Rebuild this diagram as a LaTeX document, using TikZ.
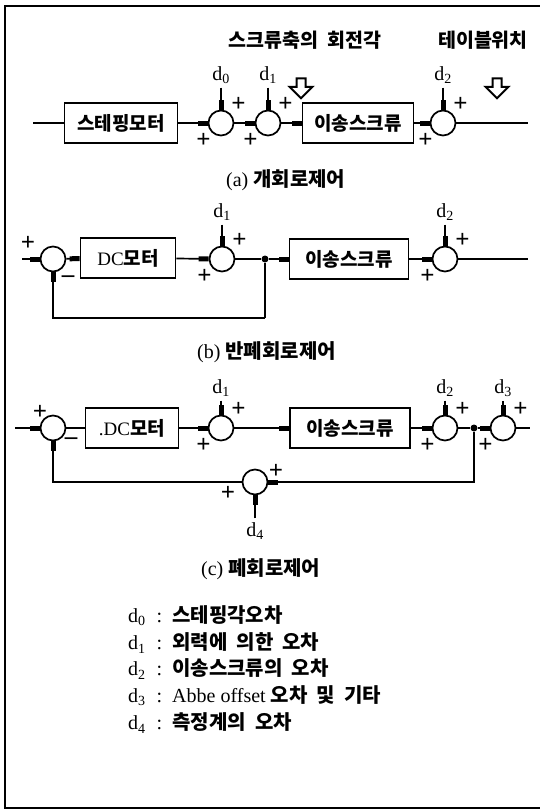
\documentclass[tikz,border=0pt]{standalone}
\usepackage{fontspec}
\setmainfont{Liberation Serif}
\newfontfamily\kr[WordSpace=2]{Noto Sans CJK KR}
\usetikzlibrary{arrows.meta, shapes.arrows, positioning}

\begin{document}
\begin{tikzpicture}[x=1pt, y=1pt, line width=1.7pt,
	font=\fontsize{20}{24}\selectfont,
	blk/.style={draw, minimum height=40pt, inner sep=0pt,
		font=\fontsize{19}{23}\selectfont\kr\bfseries},
	sm/.style={circle, draw, minimum size=25pt, inner sep=0pt},
	jn/.style={circle, fill, minimum size=7pt, inner sep=0pt},
	pl/.style={inner sep=0pt, font=\fontsize{25}{25}\selectfont\bfseries},
	kt/.style={font=\fontsize{19.5}{23}\selectfont\kr\bfseries},
	fl/.style={-{Rectangle[length=10pt, width=5pt]}},
	hol/.style={single arrow, draw, shape border rotate=270, line width=2pt,
		inner sep=3.5pt, minimum height=20pt, single arrow head extend=7pt}]
	\useasboundingbox (0,0) rectangle (540,-809);
	\draw[line width=2pt] (540,-6) -- (5,-6) -- (5,-808) -- (540,-808);

	% (a)
	\node[kt] (ta) at (305,-40) {스크류축의 회전각};
	\node[kt] (tb) at (483,-40) {테이블위치};
	\node[hol] (ha) at (301,-86) {};
	\node[hol] (hb) at (497,-86) {};
	\coordinate (ain) at (33,-123);
	\node[blk, minimum width=113pt] (am) at (121,-123) {스테핑모터};
	\node[sm] (a1) at (221,-123) {};
	\node[sm] (a2) at (268,-123) {};
	\node[blk, minimum width=111pt] (as) at (358,-123) {이송스크류};
	\node[sm] (a3) at (443,-123) {};
	\coordinate (aout) at (528,-123);
	\node (d0a) at (221,-75) {d\textsubscript{0}};
	\node (d1a) at (268,-75) {d\textsubscript{1}};
	\node (d2a) at (443,-75) {d\textsubscript{2}};
	\node[pl, above right=1pt and 0pt of a1] (pa1t) {+};
	\node[pl, below left=0pt and 0pt of a1] (pa1b) {+};
	\node[pl, above right=1pt and 0pt of a2] (pa2t) {+};
	\node[pl, below left=0pt and 0pt of a2] (pa2b) {+};
	\node[pl, above right=1pt and 0pt of a3] (pa3t) {+};
	\node[pl, below left=0pt and 0pt of a3] (pa3b) {+};
	\draw (ain) -- (am);
	\draw[fl] (am) -- (a1);
	\draw[fl] (a1) -- (a2);
	\draw[fl] (a2) -- (as);
	\draw[fl] (as) -- (a3);
	\draw (a3) -- (aout);
	\draw[fl] (d0a) -- (a1);
	\draw[fl] (d1a) -- (a2);
	\draw[fl] (d2a) -- (a3);
	\node[anchor=west] (capa) at (222,-180) {(a)\ {\kr\bfseries 개회로제어}};

	% (b)
	\coordinate (bin) at (22,-259);
	\node[sm] (b1) at (53,-259) {};
	\node[blk, minimum width=95pt] (bm) at (128,-258) {{\rmfamily\mdseries DC}모터};
	\node[sm] (b2) at (222,-259) {};
	\node[jn] (bj) at (265,-259) {};
	\node[blk, minimum width=119pt] (bs) at (349,-259) {이송스크류};
	\node[sm] (b3) at (445,-259) {};
	\coordinate (bout) at (528,-259);
	\coordinate (bfb) at (265,-318);
	\node (d1b) at (222,-212) {d\textsubscript{1}};
	\node (d2b) at (445,-212) {d\textsubscript{2}};
	\node[pl] (pb1t) at (28,-243) {+};
	\node[pl] (pb1m) at (68,-279) {--};
	\node[pl, above right=1pt and 0pt of b2] (pb2t) {+};
	\node[pl, below left=0pt and 0pt of b2] (pb2b) {+};
	\node[pl, above right=1pt and 0pt of b3] (pb3t) {+};
	\node[pl, below left=0pt and 0pt of b3] (pb3b) {+};
	\draw[fl] (bin) -- (b1);
	\draw[fl] (b1) -- (bm);
	\draw[fl] (bm) -- (b2);
	\draw (b2) -- (bj);
	\draw[fl] (bj) -- (bs);
	\draw[fl] (bs) -- (b3);
	\draw (b3) -- (bout);
	\draw (bj) -- (bfb);
	\draw[fl] (bfb) -| (b1);
	\draw[fl] (d1b) -- (b2);
	\draw[fl] (d2b) -- (b3);
	\node[anchor=west] (capb) at (193,-352) {(b)\ {\kr\bfseries 반폐회로제어}};

	% (c)
	\coordinate (cin) at (15,-428);
	\node[sm] (c1) at (53,-428) {};
	\node[blk, minimum width=93pt] (cm) at (132,-428) {{\rmfamily\mdseries .DC}모터};
	\node[sm] (c2) at (221,-428) {};
	\node[blk, minimum width=120pt] (cs) at (350,-428) {이송스크류};
	\node[sm] (c3) at (445,-428) {};
	\node[jn] (cj) at (474,-428) {};
	\node[sm] (c4) at (503,-428) {};
	\coordinate (cout) at (530,-428);
	\node[sm] (c5) at (255,-482) {};
	\node (d1c) at (221,-388) {d\textsubscript{1}};
	\node (d2c) at (445,-388) {d\textsubscript{2}};
	\node (d3c) at (503,-388) {d\textsubscript{3}};
	\node (d4c) at (255,-531) {d\textsubscript{4}};
	\node[pl] (pc1t) at (40,-412) {+};
	\node[pl] (pc1m) at (71,-441) {--};
	\node[pl, above right=1pt and 0pt of c2] (pc2t) {+};
	\node[pl, below left=0pt and 0pt of c2] (pc2b) {+};
	\node[pl, above right=1pt and 0pt of c3] (pc3t) {+};
	\node[pl, below left=0pt and 0pt of c3] (pc3b) {+};
	\node[pl, above right=1pt and 0pt of c4] (pc4t) {+};
	\node[pl, below left=0pt and 0pt of c4] (pc4b) {+};
	\node[pl] (pc5t) at (276,-471) {+};
	\node[pl] (pc5b) at (228,-493) {+};
	\draw[fl] (cin) -- (c1);
	\draw (c1) -- (cm);
	\draw[fl] (cm) -- (c2);
	\draw[fl] (c2) -- (cs);
	\draw[fl] (cs) -- (c3);
	\draw (c3) -- (cj);
	\draw[fl] (cj) -- (c4);
	\draw (c4) -- (cout);
	\draw[fl] (cj) |- (c5);
	\draw[fl] (c5) -| (c1);
	\draw[fl] (d1c) -- (c2);
	\draw[fl] (d2c) -- (c3);
	\draw[fl] (d3c) -- (c4);
	\draw[fl] (d4c) -- (c5);
	\node[anchor=west] (capc) at (197,-569) {(c)\ {\kr\bfseries 폐회로제어}};

	% legend
	\node[anchor=west] (l0) at (124,-616) {d\textsubscript{0}\hspace{11pt}:\hspace{10pt}{\kr\bfseries 스테핑각오차}};
	\node[anchor=west] (l1) at (124,-643) {d\textsubscript{1}\hspace{11pt}:\hspace{10pt}{\kr\bfseries 외력에 의한 오차}};
	\node[anchor=west] (l2) at (124,-669) {d\textsubscript{2}\hspace{11pt}:\hspace{10pt}{\kr\bfseries 이송스크류의 오차}};
	\node[anchor=west] (l3) at (124,-696) {d\textsubscript{3}\hspace{11pt}:\hspace{10pt}Abbe offset {\kr\bfseries 오차 및 기타}};
	\node[anchor=west] (l4) at (124,-723) {d\textsubscript{4}\hspace{11pt}:\hspace{10pt}{\kr\bfseries 측정계의 오차}};
\end{tikzpicture}
\end{document}
